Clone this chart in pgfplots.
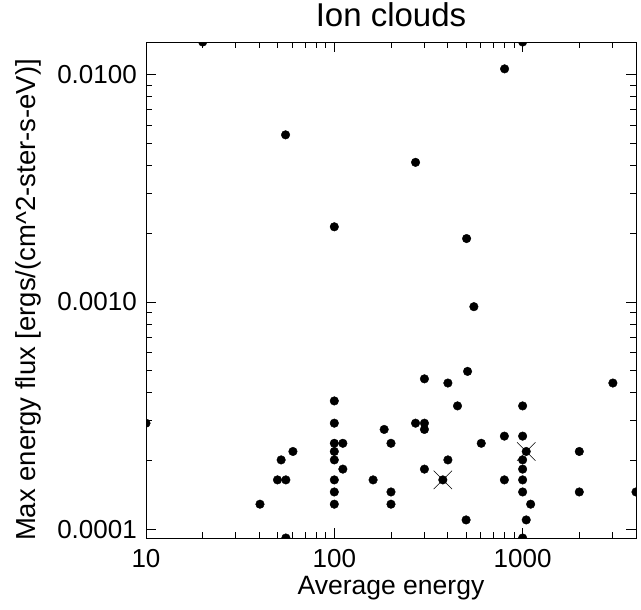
\documentclass[border=0pt]{standalone}
\usepackage{fontspec}
\setmainfont{Liberation Sans}
\usepackage{pgfplots}
\pgfplotsset{compat=1.18}
\pgfplotstableread{
x y
10 0.000293
20 0.0139
40.3 0.000129
49.9 0.000165
52.2 0.000202
55.3 0.000165
55.3 0.0000916
60.3 0.000220
55.1 0.00543
100 0.000367
100 0.000293
100 0.000239
100 0.000220
100 0.000202
100 0.000165
100 0.000146
100 0.000129
100 0.00214
111 0.000239
111 0.000184
160.7 0.000165
184 0.000275
200 0.000239
200 0.000146
200 0.000129
270 0.000293
270 0.00411
301 0.000459
301 0.000293
301 0.000275
301 0.000184
377 0.000165
401 0.000440
401 0.000202
451 0.000349
501 0.000110
504 0.00190
510 0.000495
551 0.000953
603 0.000239
800 0.000257
800 0.000165
802 0.01059
1000 0.0139
1000 0.000349
1000 0.000257
1045 0.000220
1000 0.000202
1000 0.000184
1000 0.000165
1000 0.000146
1103 0.000129
1045 0.000110
1000 0.0000916
2000 0.000220
2000 0.000146
3015 0.000440
4000 0.000146
}\dots
\pgfplotstableread{
x y
377 0.000165
1045 0.000220
}\crosses
\begin{document}
\begin{tikzpicture}[x=1pt,y=1pt]
\path[use as bounding box] (-146,-72) rectangle (495,538);
\begin{axis}[
  at={(0,0)}, anchor=south west,
  scale only axis, width=490pt, height=496pt,
  xmode=log, ymode=log,
  xmin=10, xmax=4000, ymin=9.16e-5, ymax=1.39e-2,
  xtick={10,100,1000}, xticklabels={10,100,1000},
  ytick={1e-4,1e-3,1e-2}, yticklabels={0.0001,0.0010,0.0100},
  minor xtick={20,30,40,50,60,70,80,90,200,300,400,500,600,700,800,900,2000,3000,4000},
  minor ytick={2e-4,3e-4,4e-4,5e-4,6e-4,7e-4,8e-4,9e-4,2e-3,3e-3,4e-3,5e-3,6e-3,7e-3,8e-3,9e-3},
  tick align=inside, tick pos=both,
  major tick length=10pt, minor tick length=6pt,
  tick style={black, line width=0.8pt},
  axis line style={black, line width=0.9pt},
  xticklabel style={font=\fontsize{26}{29}\selectfont, anchor=center, yshift=-21pt},
  yticklabel style={font=\fontsize{26}{29}\selectfont, anchor=east, inner sep=0pt, xshift=-9pt},
  title={Ion clouds},
  title style={font=\fontsize{33}{37}\selectfont, at={(axis description cs:0.5,1.042)}, anchor=center},
  xlabel={Average energy},
  xlabel style={font=\fontsize{26.5}{29}\selectfont, at={(axis description cs:0.5,-0.102)}, anchor=center},
  ylabel={Max energy flux [ergs/(cm\textasciicircum 2-ster-s-eV)]},
  ylabel style={font=\fontsize{27.5}{30}\selectfont, at={(axis description cs:-0.241,0.48)}, anchor=center, rotate=0},
  clip marker paths=true,
]
\addplot[only marks, mark=*, mark size=4.3pt, mark options={fill=black, draw=black}] table {\dots};
\addplot[only marks, mark=x, mark size=13pt, mark options={draw=black, line width=0.6pt}] table {\crosses};
\end{axis}
\end{tikzpicture}
\end{document}
